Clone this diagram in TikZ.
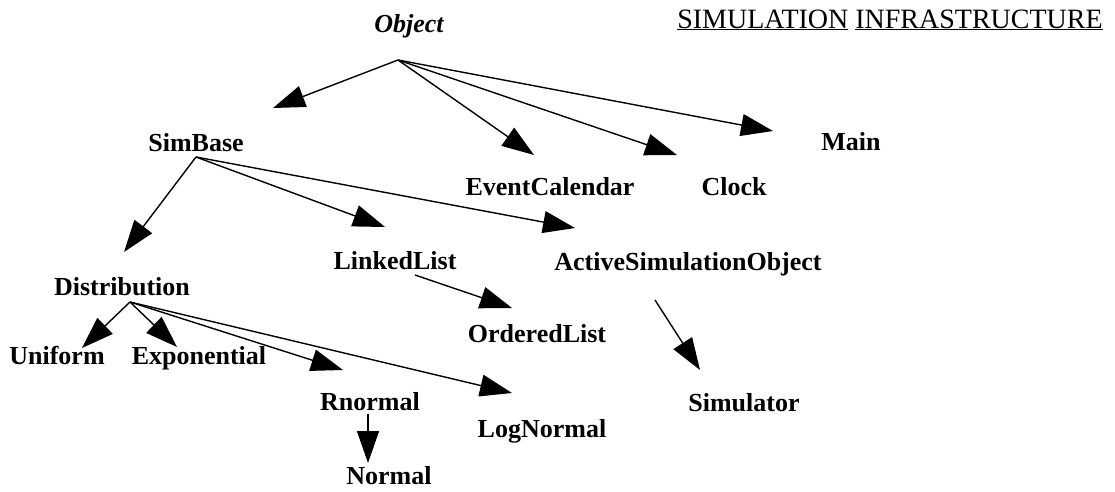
\documentclass[tikz,border=0pt]{standalone}
\usepackage{fontspec}
\setmainfont{Liberation Serif}
\usetikzlibrary{arrows.meta}
\begin{document}
\begin{tikzpicture}[x=1pt,y=-1pt,
  cls/.style={font=\bfseries\fontsize{26}{30}\selectfont, inner sep=0pt, anchor=base},
  root/.style={font=\bfseries\itshape\fontsize{26}{30}\selectfont, inner sep=0pt, anchor=base},
  heading/.style={font=\fontsize{28}{32}\selectfont, inner sep=0pt, anchor=base},
  arr/.style={line width=1.4pt, -{Triangle[length=32pt,width=22pt]}}]
\useasboundingbox (0,0) rectangle (1115,491);

% classes
\node[root] (object) at (409,32) {Object};
\node[heading] (title) at (890,28) {\underline{SIMULATION} \underline{INFRASTRUCTURE}};
\node[cls] (simbase) at (196,151) {SimBase};
\node[cls] (eventcal) at (550,195) {EventCalendar};
\node[cls] (clock) at (734,195) {Clock};
\node[cls] (main) at (851,150) {Main};
\node[cls] (dist) at (122,295) {Distribution};
\node[cls] (linked) at (395,269) {LinkedList};
\node[cls] (aso) at (688,270) {ActiveSimulationObject};
\node[cls] (uniform) at (57,364) {Uniform};
\node[cls] (expo) at (199,364) {Exponential};
\node[cls] (ordered) at (537,342) {OrderedList};
\node[cls] (rnormal) at (370,410) {Rnormal};
\node[cls] (simulator) at (744,411) {Simulator};
\node[cls] (lognormal) at (542,437) {LogNormal};
\node[cls] (normal) at (389,484) {Normal};

% arrow origins (below each parent)
\coordinate (object-o) at (398,60);
\coordinate (simbase-o) at (196,157);
\coordinate (dist-o) at (130,302);
\coordinate (linked-o) at (415,275);
\coordinate (aso-o) at (655,300);
\coordinate (rnormal-o) at (368,414);

% arrow tips (above each child)
\coordinate (simbase-in) at (273,108);
\coordinate (eventcal-in) at (534,155);
\coordinate (clock-in) at (677,155);
\coordinate (main-in) at (773,131);
\coordinate (dist-in) at (124,252);
\coordinate (linked-in) at (385,227);
\coordinate (aso-in) at (575,228);
\coordinate (uniform-in) at (82,348);
\coordinate (expo-in) at (177,347);
\coordinate (rnormal-in) at (343,370);
\coordinate (lognormal-in) at (512,393);
\coordinate (ordered-in) at (512,308);
\coordinate (simulator-in) at (700,370);
\coordinate (normal-in) at (368,463);

% inheritance arrows
\draw[arr] (object-o) -- (simbase-in);
\draw[arr] (object-o) -- (eventcal-in);
\draw[arr] (object-o) -- (clock-in);
\draw[arr] (object-o) -- (main-in);
\draw[arr] (simbase-o) -- (dist-in);
\draw[arr] (simbase-o) -- (linked-in);
\draw[arr] (simbase-o) -- (aso-in);
\draw[arr] (dist-o) -- (uniform-in);
\draw[arr] (dist-o) -- (expo-in);
\draw[arr] (dist-o) -- (rnormal-in);
\draw[arr] (dist-o) -- (lognormal-in);
\draw[arr] (linked-o) -- (ordered-in);
\draw[arr] (aso-o) -- (simulator-in);
\draw[arr] (rnormal-o) -- (normal-in);
\end{tikzpicture}
\end{document}
